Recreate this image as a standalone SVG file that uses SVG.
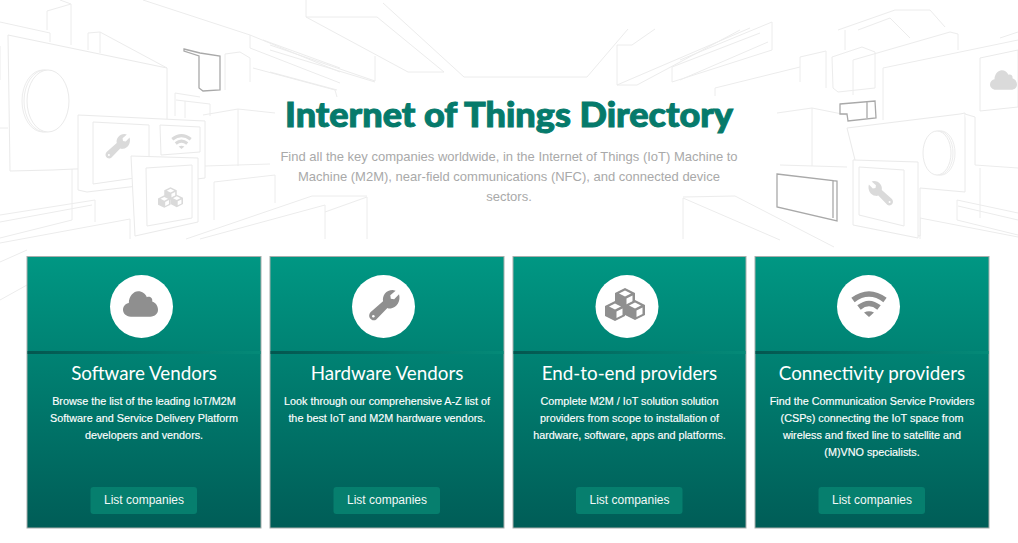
<svg xmlns="http://www.w3.org/2000/svg" xmlns:xlink="http://www.w3.org/1999/xlink" width="1018" height="543" viewBox="0 0 1018 543">
<style>
text{font-family:"Liberation Sans",Arial,sans-serif}
.l{fill:none;stroke:#ececec;stroke-width:1}
.w{fill:#fff;stroke:#eaeaea;stroke-width:1}
.d{fill:none;stroke:#a9a9a9;stroke-width:1.300}
.card{fill:url(#cg);stroke:#a8aeac;stroke-width:1}
.div{fill:url(#dg)}
.disc{fill:#fff}
.title{font-family:"Lato","Noto Sans",sans-serif;font-weight:900;font-size:34px;fill:#067a6b;stroke:#067a6b;stroke-width:1;text-anchor:middle}
.sub{font-size:13px;fill:#a9a9a9;text-anchor:middle}
.h{font-family:"Lato","Noto Sans",sans-serif;font-weight:400;font-size:18.800px;fill:#fff;text-anchor:middle}
.p{font-size:10.800px;fill:#fff;text-anchor:middle;stroke:#fff;stroke-width:.15}
.btn{fill:#067f6e}
.bt{font-size:12px;fill:#f2f8f7;text-anchor:middle}
.ic{color:#8f8f8f}
.bg{color:#dadada}
</style>
<defs>
<linearGradient id="cg" x1="0" y1="0" x2="0" y2="1"><stop offset="0" stop-color="#009783"/><stop offset="1" stop-color="#005d57"/></linearGradient>
<linearGradient id="dg" x1="0" y1="0" x2="1" y2="0"><stop offset="0" stop-color="#04564f"/><stop offset=".6" stop-color="#037a6c"/><stop offset="1" stop-color="#048a78"/></linearGradient>
<symbol id="cloud" viewBox="0 0 36 26" overflow="visible"><path fill="currentColor" d="M8 26C3 26 0 22.500 0 19C0 15 3 12.500 6 12C6 5 11 0 15.500 0C20 0 23 2.500 24.500 6C27 4.500 31 6.500 30 10.500C33.500 11.500 36 15 36 19C36 23 33 26 28 26Z"/></symbol>
<symbol id="wrench" viewBox="0 0 32 32" overflow="visible"><path fill="currentColor" d="M2 23L15 11.500C14 6 18 0 25 0L28 .7L22.500 5.500L23 9L26.500 9.500L31.500 4.500C33.500 11 29.500 18.500 23 19C21.500 19.200 20.500 19 19.500 18.500L8 30.500C4 33.500-2 28 2 23Z"/><circle cx="5" cy="27" r="1.300" fill="#fff"/></symbol>
<symbol id="wifi" viewBox="0 0 36 26" overflow="visible"><g fill="none" stroke="currentColor" stroke-width="5.500"><path d="M2 9Q18-3 34 9"/><path d="M8 16.500Q18 8.500 28 16.500"/></g><path fill="currentColor" d="M13 21.500Q18 19 23 21.500L18 26Z"/></symbol>
<g id="cube"><path fill="currentColor" d="M10 0L20 5V15L10 20L0 15V5Z"/><path fill="#fff" d="M10 2.500L16 5.500L10 8.500L4 5.500Z"/><path fill="#fff" d="M11.500 10.500L17.500 7.500V14L11.500 17Z"/></g>
<symbol id="cubes" viewBox="0 0 40 33" overflow="visible"><use xlink:href="#cube" x="10" y="0"/><use xlink:href="#cube" x="0" y="13"/><use xlink:href="#cube" x="20" y="12"/></symbol>
</defs>
<rect width="1018" height="543" fill="#fff"/>

<g id="background-art">
<path class="l" d="M0 22L50 33V42M47 11L71 4V45M47 11V30M60 0L71 4M88 33L100 32L167 68M88 33V50M100 32V53M143 0L250 35V48L340 83M250 35L340 72M263 40L340 68M253 68L335 90L337 97M225 54L240 52L250 58V82M225 54V90M175 93L200 97M176 100L210 104V116M185 101V118M175 93V116M203 115L238 109L275 113M238 109V166M205 166L270 164M214 182L275 175V203M214 182V220M186 239L312 196H367M200 239L325 205V239M367 197V239M325 212L367 197M0 243L130 219V239M0 215L95 200V222M0 222L92 205M72 166V220L0 238M0 46V80M0 128H8M0 300L27 285M0 262L27 250"/>
<path class="l" d="M270 45L375 81V56M270 50L375 82M270 72L337 90M306 0V17H377M306 17L408 72H444L377 17M383 3L464 77H587L628 29M617 45V85L750 28M617 45H632L655 29M617 85H637L740 30M672 82V67L760 33M672 82L772 50V22L680 60M680 80L768 42M715 96V88L800 67"/>
<path class="l" d="M800 57L826 51V88M800 57V82M832 57L862 47L875 52V88L838 92L833 88ZM853 60L950 32L958 34V50M853 60V95M883 68L1018 40M883 68V120M838 30L895 10H930L945 27M845 50V30M858 30L890 18L910 38M1000 38L1018 32M777 113L812 108L847 115M812 108V166M780 165L847 167M683 197L735 196L834 247M683 198L780 240M683 198V239M920 218V239M920 218L1018 237M957 200V220L1018 235M957 200L1018 213M958 206L1018 220M980 168V218M975 165L1018 168"/>
<path class="w" d="M8 35L167 68V165L52 170L10 171Z"/>
<ellipse class="l" cx="43" cy="101" rx="21" ry="31"/><ellipse class="l" cx="45" cy="101" rx="21" ry="31"/>
<ellipse class="w" cx="48" cy="101" rx="21" ry="31"/>
<path class="w" d="M78 115L205 121V178L87 192L78 190Z"/>
<path class="w" d="M93 122L149 125V176L93 184Z"/>
<path class="w" d="M160 125L200 127V152L161 155Z"/>
<path class="w" d="M131 156L198 158V222L135 236Z"/>
<path class="w" d="M146 168L192 165V218L147 226Z"/>
<use class="bg" xlink:href="#wrench" x="105" y="134" width="25" height="25"/>
<use class="bg" xlink:href="#wifi" x="171" y="134" width="21" height="15"/>
<use class="bg" xlink:href="#cubes" x="158" y="187" width="25" height="21"/>
<path class="d" d="M184 49L200 53L220 56V90L203 91L199 88V56L184 51Z"/>
<path class="w" d="M847 128L960 114L965 113V192L920 188V236L855 225V160L847 128Z"/>
<path class="w" d="M965 114L975 117V165M883 115"/>
<ellipse class="l" cx="941" cy="153" rx="14" ry="22"/><ellipse class="l" cx="939" cy="153" rx="14" ry="22"/>
<ellipse class="w" cx="937" cy="153" rx="14" ry="22"/>
<path class="w" d="M853 160L918 162V238L853 225Z"/>
<path class="w" d="M859 167L904 170V226L859 215Z"/>
<path class="w" d="M980 58L1018 50V107L980 111Z"/>
<use class="bg" xlink:href="#cloud" x="990" y="68" width="27" height="24"/>
<use class="bg" xlink:href="#wrench" x="-894" y="181" width="26" height="25" transform="scale(-1 1)"/>
<path class="d" d="M840 104L875 101L876 118L848 121L847 114L840 114ZM867 102V118"/>
<path class="d" d="M777 174L837 181V221L777 207ZM833 180V218"/>
</g>

<g id="header">
<text class="title" x="509" y="127" textLength="448" lengthAdjust="spacingAndGlyphs">Internet of Things Directory</text>
<text class="sub" x="509" y="161">Find all the key companies worldwide, in the Internet of Things (IoT) Machine to</text>
<text class="sub" x="509" y="181">Machine (M2M), near-field communications (NFC), and connected device</text>
<text class="sub" x="509" y="201">sectors.</text>
</g>

<g id="connectors"></g>

<g id="card-software">
<rect class="card" x="27" y="256.500" width="234" height="271.500"/>
<rect class="div" x="27.500" y="351" width="233" height="3"/>
<circle class="disc" cx="141.500" cy="306.500" r="31.500"/>
<use class="ic" xlink:href="#cloud" x="123" y="291" width="35" height="26"/>
<text class="h" x="144" y="380">Software Vendors</text>
<text class="p" x="144" y="405">Browse the list of the leading IoT/M2M</text>
<text class="p" x="144" y="422">Software and Service Delivery Platform</text>
<text class="p" x="144" y="439">developers and vendors.</text>
<rect class="btn" x="90.500" y="487" width="106.500" height="27" rx="3"/>
<text class="bt" x="144" y="504">List companies</text>
</g>

<g id="card-hardware">
<rect class="card" x="270" y="256.500" width="234" height="271.500"/>
<rect class="div" x="270.500" y="351" width="233" height="3"/>
<circle class="disc" cx="383.500" cy="306.500" r="31.500"/>
<use class="ic" xlink:href="#wrench" x="368" y="290" width="32" height="31"/>
<text class="h" x="387" y="380">Hardware Vendors</text>
<text class="p" x="387" y="405">Look through our comprehensive A-Z list of</text>
<text class="p" x="387" y="422">the best IoT and M2M hardware vendors.</text>
<rect class="btn" x="333.500" y="487" width="106.500" height="27" rx="3"/>
<text class="bt" x="387" y="504">List companies</text>
</g>

<g id="card-end-to-end">
<rect class="card" x="513" y="256.500" width="233" height="271.500"/>
<rect class="div" x="513.500" y="351" width="232" height="3"/>
<circle class="disc" cx="627" cy="306.500" r="31.500"/>
<use class="ic" xlink:href="#cubes" x="605" y="288" width="40" height="33"/>
<text class="h" x="629.500" y="380">End-to-end providers</text>
<text class="p" x="629.500" y="405">Complete M2M / IoT solution solution</text>
<text class="p" x="629.500" y="422">providers from scope to installation of</text>
<text class="p" x="629.500" y="439">hardware, software, apps and platforms.</text>
<rect class="btn" x="576" y="487" width="106.500" height="27" rx="3"/>
<text class="bt" x="629.500" y="504">List companies</text>
</g>

<g id="card-connectivity">
<rect class="card" x="755" y="256.500" width="234" height="271.500"/>
<rect class="div" x="755.500" y="351" width="233" height="3"/>
<circle class="disc" cx="868.500" cy="306.500" r="31.500"/>
<use class="ic" xlink:href="#wifi" x="851" y="291" width="36" height="26"/>
<text class="h" x="872" y="380">Connectivity providers</text>
<text class="p" x="872" y="405">Find the Communication Service Providers</text>
<text class="p" x="872" y="422">(CSPs) connecting the IoT space from</text>
<text class="p" x="872" y="439">wireless and fixed line to satellite and</text>
<text class="p" x="872" y="456">(M)VNO specialists.</text>
<rect class="btn" x="818.500" y="487" width="106.500" height="27" rx="3"/>
<text class="bt" x="872" y="504">List companies</text>
</g>
</svg>
